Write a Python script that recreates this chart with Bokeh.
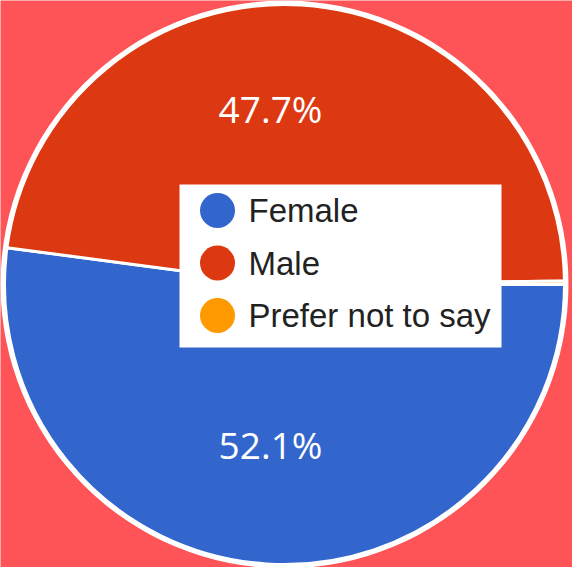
import math
from bokeh.plotting import figure
from bokeh.models import Range1d, ColumnDataSource
from bokeh.embed import file_html
from bokeh.resources import INLINE
from bokeh.core.properties import value

# ---- data ----
categories = ["Female", "Male", "Prefer not to say"]
percents = [52.1, 47.7, 0.2]
colors = ["#3366CC", "#DC3912", "#FF9900"]

BG = "#FE5457"
W, H = 572, 567
cx, cy, R = 284, 283, 280

p = figure(width=W, height=H, x_range=Range1d(0, W), y_range=Range1d(0, H),
           output_backend="svg", toolbar_location=None, min_border=0)
p.axis.visible = False
p.grid.visible = False
p.outline_line_color = None
p.background_fill_color = BG
p.border_fill_color = BG

# wedge angles (start at 3 o'clock, clockwise)
cum = [0.0]
for v in percents:
    cum.append(cum[-1] + v)
start = [-c / 100 * 2 * math.pi for c in cum[:-1]]
end = [-c / 100 * 2 * math.pi for c in cum[1:]]
mid = [(s + e) / 2 for s, e in zip(start, end)]

src = ColumnDataSource(dict(cat=categories, pct=percents, color=colors,
                            start=start, end=end))

# white outer ring
p.circle(x=cx, y=cy, radius=R + 4, fill_color="white", line_color=None)
p.wedge(x=cx, y=cy, radius=R, start_angle="start", end_angle="end",
        direction="clock", fill_color="color", line_color="white",
        line_width=3, source=src)

# percentage labels
lab_x, lab_y, lab_t = [], [], []
for v, m in zip(percents, mid):
    if v >= 1:
        lab_x.append(cx)
        lab_y.append(cy + 0.6 * R * math.sin(m))
        lab_t.append(f"{v}%")
p.text(x=lab_x, y=lab_y, text=lab_t, text_color="white",
       text_font=value("Open Sans"), text_font_size="37px",
       text_font_style="normal", text_align="center", text_baseline="middle",
       x_offset=-14, y_offset=-8)

# legend box drawn in the centre
box_l, box_r, box_b, box_t = 179, 501, 220, 383
p.quad(left=[box_l], right=[box_r], bottom=[box_b], top=[box_t],
       fill_color="white", line_color=None)
n = len(categories)
item_y = [357 - i * 52.5 for i in range(n)]
p.scatter(x=[217] * n, y=item_y, size=35, marker="circle",
          fill_color=colors, line_color=None)
p.text(x=[248] * n, y=item_y, text=categories, text_color="#222222",
       text_font=value("Liberation Sans"), text_font_size="33px",
       text_align="left", text_baseline="middle")

html = file_html(p, INLINE)
html = html.replace("<body>", f'<body style="background:{BG};">', 1)
open("out.html", "w").write(html)
